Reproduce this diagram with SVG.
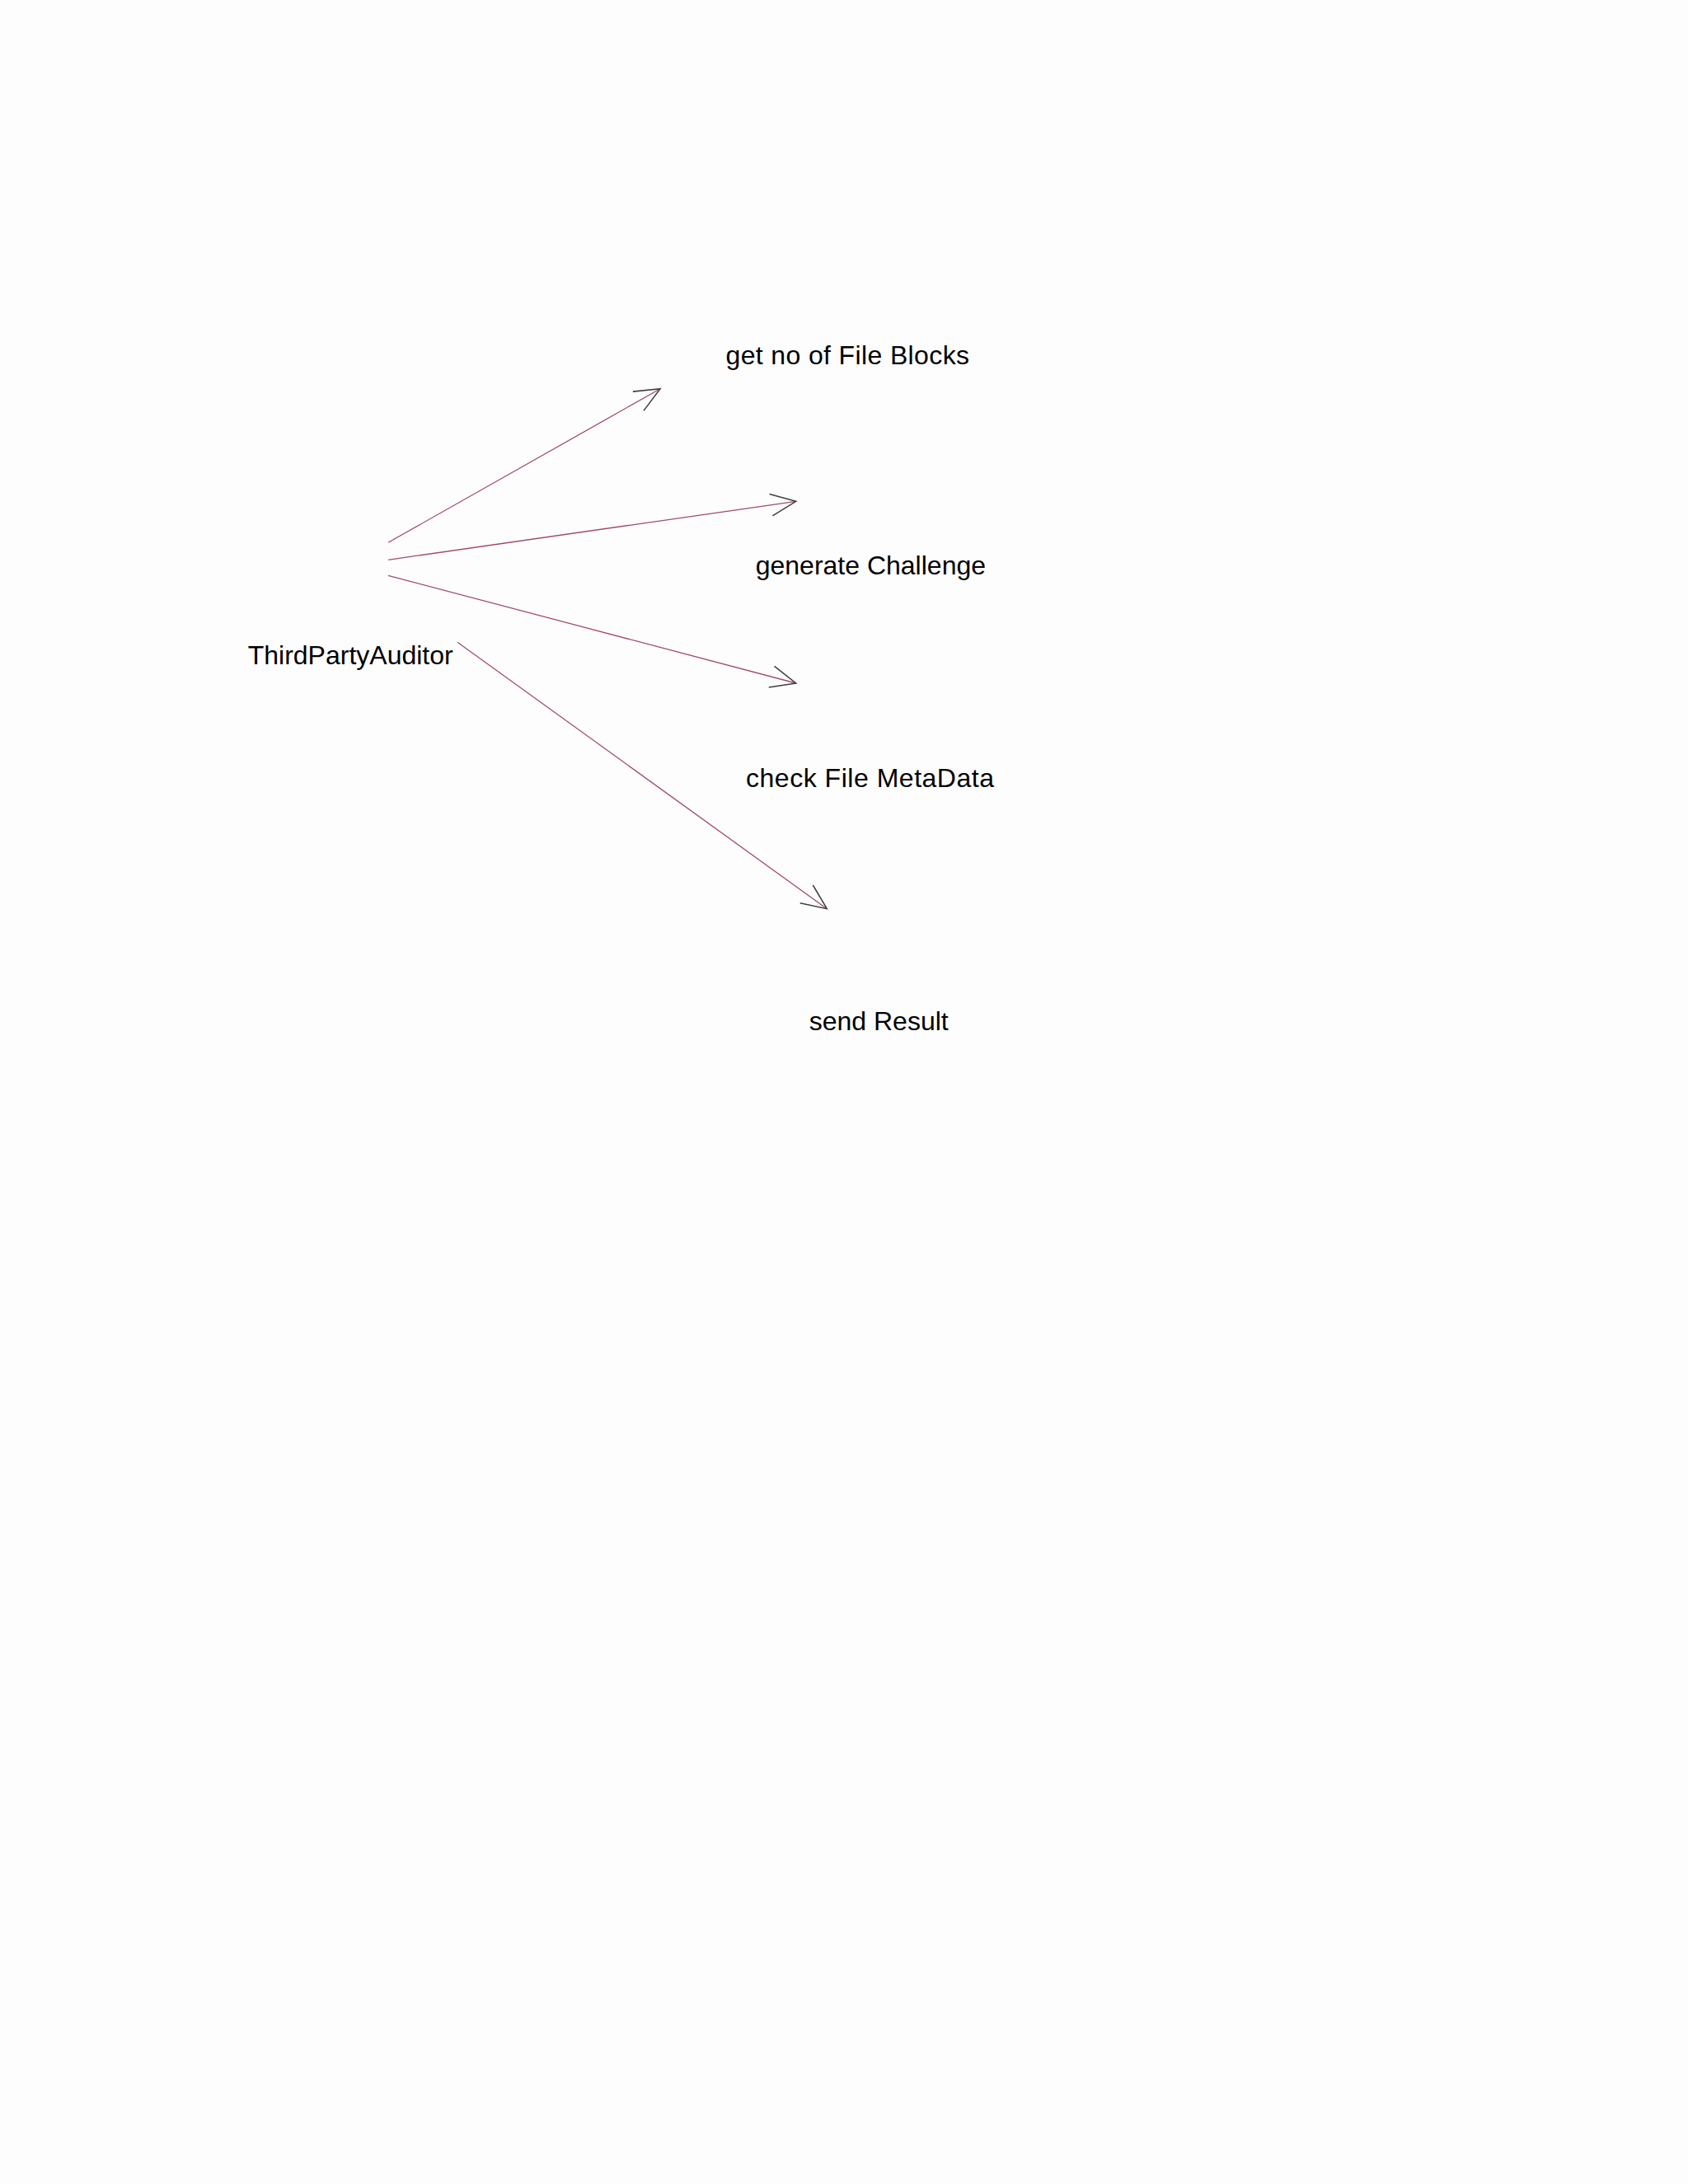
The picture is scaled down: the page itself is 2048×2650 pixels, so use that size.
<svg xmlns="http://www.w3.org/2000/svg" width="2048" height="2650" viewBox="0 0 2048 2650">
<style>
.lbl{font-family:"Liberation Sans",Arial,sans-serif;font-size:32px;fill:#000}
.conn{stroke:#a04a6e;stroke-width:1.3;fill:none}
</style>
<defs>
<marker id="open" markerUnits="userSpaceOnUse" markerWidth="40" markerHeight="40" viewBox="-32 -16 36 32" refX="0" refY="0" orient="auto">
<path d="M -27.5 -12 L 0 0 L -27.5 12" fill="none" stroke="#404040" stroke-width="1.4"/>
</marker>
</defs>
<rect width="2048" height="2650" fill="#fdfdfd"/>
<g id="connectors">
<line class="conn" x1="471" y1="658.3" x2="801" y2="471.7" marker-end="url(#open)"/>
<line class="conn" x1="471" y1="679.3" x2="965.7" y2="608.3" marker-end="url(#open)"/>
<line class="conn" x1="471" y1="698.3" x2="965.7" y2="829" marker-end="url(#open)"/>
<line class="conn" x1="555" y1="779.3" x2="1003.3" y2="1102.7" marker-end="url(#open)"/>
</g>
<g id="ThirdPartyAuditor"><text class="lbl" x="300.7" y="805.7">ThirdPartyAuditor</text></g>
<g id="getNoOfFileBlocks"><text class="lbl" x="880.5" y="442" textLength="295.5" lengthAdjust="spacing">get no of File Blocks</text></g>
<g id="generateChallenge"><text class="lbl" x="916.7" y="697">generate Challenge</text></g>
<g id="checkFileMetaData"><text class="lbl" x="905" y="955" textLength="301" lengthAdjust="spacing">check File MetaData</text></g>
<g id="sendResult"><text class="lbl" x="981.7" y="1250">send Result</text></g>
</svg>
